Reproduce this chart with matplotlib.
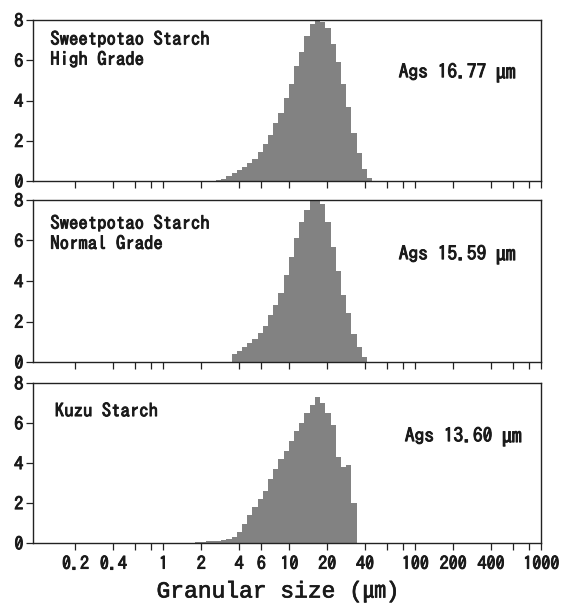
import matplotlib
matplotlib.use("Agg")
import matplotlib.pyplot as plt
import matplotlib.patheffects as pe
from matplotlib.ticker import FixedLocator, FixedFormatter

# ---- data ----
# particle size channel edges (um)
edges_um = [1.62, 1.79, 1.96, 2.16, 2.38, 2.61, 2.87, 3.16, 3.48, 3.83, 4.21,
            4.63, 5.09, 5.60, 6.16, 6.78, 7.46, 8.20, 9.02, 9.92, 10.92, 12.01,
            13.21, 14.53, 15.98, 17.58, 19.34, 21.27, 23.40, 25.74, 28.31,
            31.15, 34.26, 37.69, 41.46, 45.60]

high_grade = [0, 0, 0, 0, 0, 0.03, 0.1, 0.25, 0.42, 0.55, 0.7, 0.9, 1.1, 1.45,
              1.85, 2.3, 2.9, 3.4, 4.1, 4.8, 5.7, 6.4, 7.2, 7.8, 8.0, 7.9, 7.6,
              6.8, 5.9, 4.8, 3.7, 2.4, 1.4, 0.6, 0.15]

normal_grade = [0, 0, 0, 0, 0, 0, 0, 0, 0.38, 0.55, 0.75, 0.95, 1.15, 1.45,
                1.8, 2.3, 2.8, 3.4, 4.3, 5.2, 6.1, 6.9, 7.5, 8.0, 8.0, 7.8, 6.9,
                5.7, 4.5, 3.3, 2.4, 1.4, 0.75, 0.25, 0]

kuzu = [0.02, 0.04, 0.06, 0.08, 0.1, 0.12, 0.15, 0.2, 0.3, 0.55, 0.95, 1.4,
        1.8, 2.2, 2.6, 3.2, 3.7, 4.2, 4.6, 5.1, 5.6, 6.0, 6.5, 6.9, 7.3, 7.0,
        6.5, 5.9, 4.3, 3.8, 3.9, 2.0, 0, 0, 0]

panel_labels = ["Sweetpotao Starch\nHigh Grade",
                "Sweetpotao Starch\nNormal Grade",
                "Kuzu Starch"]
ags_labels = ["Ags 16.77 \u339b", "Ags 15.59 \u339b", "Ags 13.60 \u339b"]

x_ticks = [0.2, 0.4, 1, 2, 4, 6, 10, 20, 40, 100, 200, 400, 1000]
x_ticklabels = ["0.2", "0.4", "1", "2", "4", "6", "10", "20", "40", "100",
                "200", "400", "1000"]
x_minor = [0.6, 0.8, 60, 80, 600, 800]
y_ticks = [0, 2, 4, 6, 8]

xlabel = "Granular size (\u339b)"

# ---- figure ----
W, H = 575, 608
fig = plt.figure(figsize=(W / 100, H / 100), dpi=100)

gothic = ["IPAGothic", "Noto Sans CJK JP", "DejaVu Sans"]
mono = ["Liberation Mono", "Noto Sans CJK JP"]
ink = "#1a1a1a"
bold = [pe.withStroke(linewidth=0.7, foreground=ink)]

left_px, right_px = 33, 541
panels_px = [(20, 181), (200, 362), (383, 543)]
series = [high_grade, normal_grade, kuzu]
label_pos = [(0.034, 0.93), (0.034, 0.905), (0.043, 0.875)]
ags_pos = [(0.72, 0.67), (0.72, 0.66), (0.732, 0.662)]

for i, ((top, bot), vals) in enumerate(zip(panels_px, series)):
    ax = fig.add_axes([left_px / W, 1 - bot / H, (right_px - left_px) / W,
                       (bot - top) / H])
    ax.stairs(vals, edges_um, fill=True, color="#828282", linewidth=0)
    ax.set_xscale("log")
    ax.set_xlim(0.092, 1000)
    ax.set_ylim(0, 8)
    for s in ax.spines.values():
        s.set_linewidth(1.0)
        s.set_color("#222222")
    ax.xaxis.set_major_locator(FixedLocator(x_ticks))
    ax.xaxis.set_minor_locator(FixedLocator(x_minor))
    if i == 2:
        ax.xaxis.set_major_formatter(FixedFormatter(x_ticklabels))
    else:
        ax.set_xticklabels([])
    ax.xaxis.set_minor_formatter(FixedFormatter([""] * len(x_minor)))
    ax.set_yticks(y_ticks)
    ax.tick_params(axis="x", which="both", direction="out", length=5,
                   width=0.9, color="#222222", pad=4)
    ax.tick_params(axis="y", direction="out", length=5, width=0.9,
                   color="#222222", pad=2)
    for lab in ax.get_yticklabels() + ax.get_xticklabels():
        lab.set_fontfamily(gothic)
        lab.set_fontsize(13)
        lab.set_color(ink)
        lab.set_path_effects(bold)
    lx, ly = label_pos[i]
    ax.text(lx, ly, panel_labels[i], transform=ax.transAxes, ha="left",
            va="top", fontsize=13.5, family=gothic, linespacing=1.3,
            color=ink, path_effects=bold)
    gx, gy = ags_pos[i]
    ax.text(gx, gy, ags_labels[i], transform=ax.transAxes, ha="left",
            va="center", fontsize=14, family=gothic, color=ink,
            path_effects=bold)

fig.text(278 / W, 1 - 591 / H, xlabel, ha="center", va="center",
         fontsize=16.5, family=mono, color=ink,
         path_effects=[pe.withStroke(linewidth=0.5, foreground=ink)])

fig.savefig("out.png", dpi=100, facecolor="white")
